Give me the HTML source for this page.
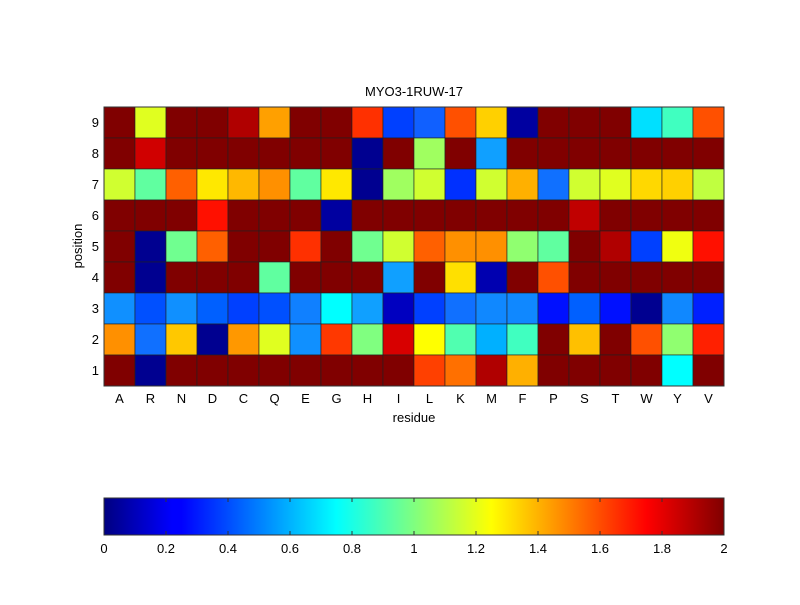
<!DOCTYPE html>
<html><head><meta charset="utf-8"><style>
body{margin:0;background:#fff;width:800px;height:600px;overflow:hidden;font-family:"Liberation Sans",sans-serif}
</style></head><body>
<svg width="800" height="600" xmlns="http://www.w3.org/2000/svg" font-family="Liberation Sans, sans-serif" font-size="13">
<defs>
<linearGradient id="jet" x1="0" x2="1" y1="0" y2="0">
<stop offset="0" stop-color="#000080"/>
<stop offset="0.11" stop-color="#0000ff"/>
<stop offset="0.125" stop-color="#0000ff"/>
<stop offset="0.375" stop-color="#00ffff"/>
<stop offset="0.625" stop-color="#ffff00"/>
<stop offset="0.875" stop-color="#ff0000"/>
<stop offset="1" stop-color="#800000"/>
</linearGradient>
</defs>
<rect width="800" height="600" fill="#fff"/>
<g id="cells" stroke="#202020" stroke-width="0.6"></g>
<rect x="104" y="107" width="620" height="279" fill="none" stroke="#333" stroke-width="1"/>
<text x="414" y="96" text-anchor="middle">MYO3-1RUW-17</text>
<g id="ylab" text-anchor="end"></g>
<g id="xlab" text-anchor="middle"></g>
<text x="414" y="422" text-anchor="middle">residue</text>
<text transform="translate(82,246) rotate(-90)" text-anchor="middle">position</text>
<rect x="104" y="498" width="620" height="37" fill="url(#jet)" stroke="#333" stroke-width="1"/>
<g id="cb" text-anchor="middle"></g>
</svg>
<script>
var D='#800000';
var rows=[
[D,'#e0ff20',D,D,'#b00000','#ffa000',D,D,'#ff3000','#0040ff','#1060ff','#ff5000','#ffd000','#0000a0',D,D,D,'#00e0ff','#40ffc0','#ff5000'],
[D,'#d00000',D,D,D,D,D,D,'#000090',D,'#a0ff60',D,'#10a0ff',D,D,D,D,D,D,D],
['#d0ff30','#60ffa0','#ff6000','#ffe800','#ffb800','#ff9000','#60ffa0','#ffe800','#000090','#a0ff60','#d0ff30','#0030ff','#d0ff30','#ffb000','#1070ff','#d0ff30','#e0ff20','#ffd800','#ffd000','#c0ff40'],
[D,D,D,'#ff1000',D,D,D,'#0000a0',D,D,D,D,D,D,D,'#c00000',D,D,D,D],
[D,'#000090','#70ff90','#ff6000',D,D,'#ff3000',D,'#70ff90','#d0ff30','#ff6000','#ff9000','#ff9000','#90ff70','#60ffa0',D,'#b00000','#0040ff','#f0ff10','#ff1000'],
[D,'#000090',D,D,D,'#60ffa0',D,D,D,'#10a0ff',D,'#ffe000','#0000b0',D,'#ff5000',D,D,D,D,D],
['#1090ff','#0050ff','#1090ff','#0060ff','#0040ff','#0050ff','#1080ff','#00ffff','#10a0ff','#0000c0','#0040ff','#1070ff','#1088ff','#1088ff','#0010ff','#0060ff','#0010ff','#000090','#1088ff','#0020ff'],
['#ff9000','#1070ff','#ffc800','#000090','#ff9800','#e0ff20','#1090ff','#ff3800','#80ff80','#d80000','#ffff00','#50ffb0','#00b0ff','#40ffc0',D,'#ffc000',D,'#ff5000','#90ff70','#ff2000'],
[D,'#000090',D,D,D,D,D,D,D,D,'#ff4000','#ff7000','#b00000','#ffb000',D,D,D,D,'#00ffff',D]];
var ns='http://www.w3.org/2000/svg';
var g=document.getElementById('cells');
var cw=31,ch=31;
for(var r=0;r<9;r++)for(var c=0;c<20;c++){var e=document.createElementNS(ns,'rect');
e.setAttribute('x',104+c*cw);e.setAttribute('y',107+r*ch);e.setAttribute('width',cw);e.setAttribute('height',ch);e.setAttribute('fill',rows[r][c]);g.appendChild(e);}
var yl=document.getElementById('ylab');
for(var r=0;r<9;r++){var t=document.createElementNS(ns,'text');t.setAttribute('x',99);t.setAttribute('y',107+r*ch+20);t.textContent=9-r;yl.appendChild(t);}
var res='ARNDCQEGHILKMFPSTWYV';var xl=document.getElementById('xlab');
for(var c=0;c<20;c++){var t=document.createElementNS(ns,'text');t.setAttribute('x',104+c*cw+15.5);t.setAttribute('y',403);t.textContent=res[c];xl.appendChild(t);}
var cb=document.getElementById('cb');
for(var i=0;i<=10;i++){var x=104+i*62;var t=document.createElementNS(ns,'text');t.setAttribute('x',x);t.setAttribute('y',553);t.textContent=(i==0?'0':i==5?'1':i==10?'2':(i*0.2).toFixed(1));cb.appendChild(t);
if(i>0&&i<10){var l=document.createElementNS(ns,'line');l.setAttribute('x1',x);l.setAttribute('x2',x);l.setAttribute('y1',498);l.setAttribute('y2',502);l.setAttribute('stroke','#333');cb.appendChild(l);
var l2=document.createElementNS(ns,'line');l2.setAttribute('x1',x);l2.setAttribute('x2',x);l2.setAttribute('y1',531);l2.setAttribute('y2',535);l2.setAttribute('stroke','#333');cb.appendChild(l2);}}
</script>
</body></html>
